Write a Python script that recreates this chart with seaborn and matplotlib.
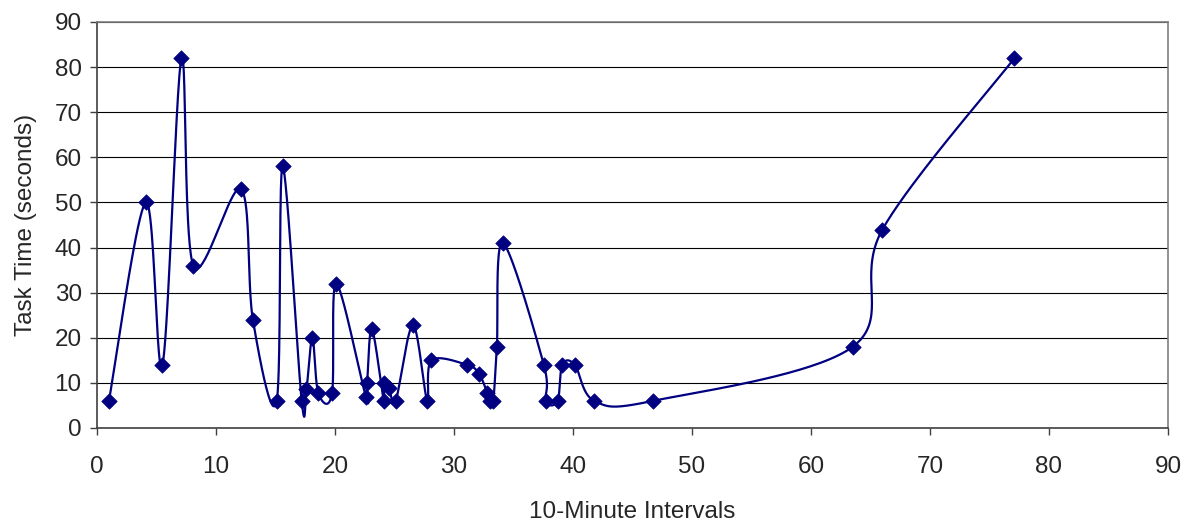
import numpy as np
import pandas as pd
import matplotlib
matplotlib.use("Agg")
import matplotlib.pyplot as plt
import seaborn as sns

# Task times per 10-minute interval
interval = [1.0, 4.1, 5.5, 7.1, 8.1, 12.1, 13.1, 15.1, 15.6, 17.2,
            17.6, 18.1, 18.6, 19.75, 20.1, 22.6, 22.7, 23.1, 24.1, 24.1,
            24.55, 25.1, 26.55, 27.75, 28.1, 31.1, 32.1, 32.8, 33.05, 33.3,
            33.6, 34.1, 37.55, 37.7, 38.7, 39.1, 40.15, 41.8, 46.7, 63.5,
            66.0, 77.1]
task_time = [6, 50, 14, 82, 36, 53, 24, 6, 58, 6,
             8.6, 20, 7.7, 7.7, 32, 6.9, 10, 22, 6, 10,
             8.8, 6, 22.8, 6, 15, 14, 12, 7.8, 6, 6,
             18, 41, 14, 6, 6, 14, 14, 6, 6, 18,
             44, 82]

x_ticks = list(range(0, 91, 10))
y_ticks = list(range(0, 91, 10))

NAVY = "#000080"


def smooth_path(xs, ys, steps=40):
    """Cubic Bezier smoothing through every point (Catmull-Rom style)."""
    p = np.column_stack([xs, ys]).astype(float)
    ext = np.vstack([p[0], p, p[-1]])
    t = np.linspace(0, 1, steps)[:, None]
    out = []
    for i in range(len(p) - 1):
        p0, p1, p2, p3 = ext[i], ext[i + 1], ext[i + 2], ext[i + 3]
        c1 = p1 + (p2 - p0) / 6.0
        c2 = p2 - (p3 - p1) / 6.0
        seg = ((1 - t) ** 3) * p1 + 3 * ((1 - t) ** 2) * t * c1 \
            + 3 * (1 - t) * t ** 2 * c2 + t ** 3 * p2
        out.append(seg if i == 0 else seg[1:])
    return np.vstack(out)


sns.set_theme(style="white")
plt.rcParams["font.family"] = ["Liberation Sans", "DejaVu Sans"]

fig = plt.figure(figsize=(11.9, 5.23), dpi=100)
ax = fig.add_axes([97 / 1190, 1 - 428 / 523, (1168 - 97) / 1190, (428 - 22) / 523])

curve = smooth_path(interval, task_time)
curve_df = pd.DataFrame({"x": curve[:, 0], "y": curve[:, 1]})
pts_df = pd.DataFrame({"x": interval, "y": task_time})

sns.lineplot(data=curve_df, x="x", y="y", sort=False, estimator=None,
             color=NAVY, linewidth=1.6, ax=ax, zorder=3)
sns.scatterplot(data=pts_df, x="x", y="y", marker="D", s=62, color=NAVY,
                edgecolor=NAVY, linewidth=0.5, ax=ax, zorder=4)

ax.set_xlim(0, 90)
ax.set_ylim(0, 90)
ax.set_xticks(x_ticks)
ax.set_yticks(y_ticks)
ax.set_xticklabels([str(v) for v in x_ticks])
ax.set_yticklabels([str(v) for v in y_ticks])

ax.yaxis.grid(True, color="black", linewidth=0.8)
ax.xaxis.grid(False)
ax.set_axisbelow(True)

for side in ["top", "right"]:
    ax.spines[side].set_visible(True)
    ax.spines[side].set_color("#808080")
    ax.spines[side].set_linewidth(1.2)
for side in ["left", "bottom"]:
    ax.spines[side].set_color("#404040")
    ax.spines[side].set_linewidth(1.2)

ax.tick_params(axis="both", which="major", direction="out", length=5,
               width=1, color="#404040", labelsize=17.5,
               bottom=True, left=True)
ax.tick_params(axis="y", pad=6)
ax.tick_params(axis="x", pad=15)

ax.set_xlabel("10-Minute Intervals", fontsize=17.5, labelpad=17)
ax.set_ylabel("Task Time (seconds)", fontsize=17.5, labelpad=13)

fig.savefig("out.png", dpi=100)
